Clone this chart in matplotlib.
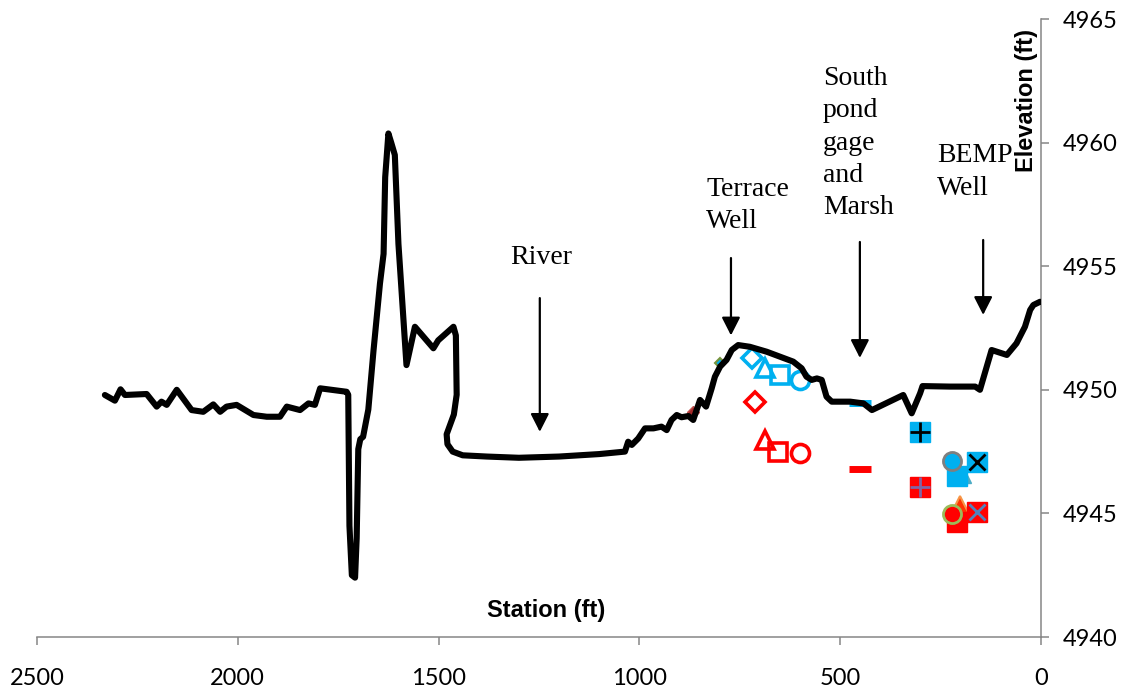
import matplotlib.pyplot as plt

# ground profile: station (ft) and elevation (ft)
station = [2331, 2306, 2292, 2281, 2227, 2202, 2190, 2177, 2152, 2115, 2086, 2061, 2044,
           2028, 2003, 1961, 1928, 1895, 1878, 1845, 1824, 1808, 1795, 1729, 1725, 1722,
           1716, 1708, 1704, 1700, 1695, 1688, 1675, 1662, 1646, 1637, 1633, 1625, 1618,
           1609, 1600, 1580, 1559, 1513, 1501, 1463, 1457, 1455, 1462, 1480, 1478, 1465,
           1440, 1380, 1300, 1200, 1100, 1036, 1028, 1019, 1003, 986, 965, 945, 932, 920,
           907, 895, 878, 866, 849, 834, 820, 812, 799, 783, 770, 754, 725, 683, 617, 596,
           584, 571, 558, 546, 534, 521, 500, 475, 442, 421, 343, 322, 301, 295, 227, 164,
           152, 123, 85, 61, 40, 27, 19, 2.5, 0]
elevation = [4949.79, 4949.56, 4950.02, 4949.79, 4949.83, 4949.32, 4949.52, 4949.39,
             4950.00, 4949.18, 4949.11, 4949.41, 4949.11, 4949.32, 4949.39, 4948.98,
             4948.91, 4948.91, 4949.32, 4949.18, 4949.45, 4949.39, 4950.06, 4949.92,
             4949.80, 4944.50, 4942.50, 4942.40, 4944.00, 4947.60, 4948.00, 4948.10,
             4949.20, 4951.60, 4954.30, 4955.50, 4958.60, 4960.37, 4960.00, 4959.50,
             4955.90, 4951.00, 4952.55, 4951.68, 4952.00, 4952.55, 4952.20, 4949.80,
             4949.00, 4948.20, 4947.80, 4947.50, 4947.35, 4947.30, 4947.25, 4947.30,
             4947.40, 4947.50, 4947.90, 4947.77, 4948.03, 4948.44, 4948.44, 4948.51,
             4948.37, 4948.78, 4948.98, 4948.89, 4948.94, 4948.78, 4949.59, 4949.32,
             4950.06, 4950.53, 4950.94, 4951.21, 4951.61, 4951.81, 4951.74, 4951.54,
             4951.14, 4950.87, 4950.53, 4950.40, 4950.46, 4950.40, 4949.72, 4949.52,
             4949.52, 4949.52, 4949.45, 4949.18, 4949.79, 4949.05, 4949.86, 4950.15,
             4950.13, 4950.13, 4950.00, 4951.61, 4951.41, 4951.88, 4952.55, 4953.23,
             4953.43, 4953.56, 4953.55]

# water levels near the terrace well (open markers)
terrace_st_hi = [720, 687, 650, 600]
terrace_el_hi = [4951.27, 4950.87, 4950.60, 4950.40]
terrace_st_lo = [712, 687, 654, 600]
terrace_el_lo = [4949.52, 4947.97, 4947.50, 4947.43]

# pond gage / marsh / BEMP well (filled markers)
pond_st = 451
pond_el_hi, pond_el_lo = 4949.45, 4946.80
marsh_st = [301, 222, 210, 194, 160]
marsh_el_hi = [4948.31, 4947.13, 4946.51, 4946.55, 4947.09]
marsh_st_lo = [301, 222, 210, 202, 160]
marsh_el_lo = [4946.08, 4944.98, 4944.66, 4945.34, 4945.07]

# small markers on the slope
small_st = [799, 866]
small_el = [4951.07, 4949.11]

# annotations: label text, label anchor, arrow station, arrow start, arrow tip
labels = ["River", "Terrace\nWell", "South\npond\ngage\nand\nMarsh", "BEMP\nWell"]
label_x = [1245, 834, 543, 259]
label_y = [4955.37, 4957.44, 4959.98, 4958.81]
arrow_st = [1248, 772, 451, 144]
arrow_top = [4953.71, 4955.33, 4955.98, 4956.06]
arrow_tip = [4948.30, 4952.20, 4951.29, 4953.03]

cyan = '#00B0F0'
red = '#FF0000'

fig = plt.figure(figsize=(11.31, 6.93), dpi=100)
ax = fig.add_axes([37 / 1131, 1 - 637 / 693, 1004 / 1131, 618 / 693])

# open markers
shapes = ['D', '^', 's', 'o']
sizes = [10.5, 13, 12.5, 13]
for i in range(4):
    ax.plot(terrace_st_hi[i], terrace_el_hi[i], marker=shapes[i], ms=sizes[i], mfc='none',
            mec=cyan, mew=2.6, zorder=3)
    ax.plot(terrace_st_lo[i], terrace_el_lo[i], marker=shapes[i], ms=sizes[i], mfc='none',
            mec=red, mew=2.6, zorder=3)

ax.plot(small_st[0], small_el[0], marker='D', ms=5, mfc=cyan, mec='#77933C', mew=1.5, zorder=3)
ax.plot(small_st[1], small_el[1], marker='D', ms=6, mfc='#A52A2A', mec='#C0504D', mew=1, zorder=3)

# dashes at the pond gage
ax.plot(pond_st, pond_el_hi, marker='_', ms=16, mew=5, mec=cyan, zorder=3)
ax.plot(pond_st, pond_el_lo, marker='_', ms=16, mew=5, mec=red, zorder=3)

# plus in square
ax.plot(marsh_st[0], marsh_el_hi[0], marker='s', ms=14, mfc=cyan, mec=cyan, zorder=3)
ax.plot(marsh_st[0], marsh_el_hi[0], marker='+', ms=14, mec='black', mew=2, zorder=4)
ax.plot(marsh_st_lo[0], marsh_el_lo[0], marker='s', ms=14, mfc=red, mec=red, zorder=3)
ax.plot(marsh_st_lo[0], marsh_el_lo[0], marker='+', ms=14, mec='#8064A2', mew=2, zorder=4)

# squares and triangles
ax.plot(marsh_st[2], marsh_el_hi[2], marker='s', ms=14, mfc=cyan, mec=cyan, zorder=3)
ax.plot(marsh_st[3], marsh_el_hi[3], marker='^', ms=12, mfc='#4BACC6', mec='#4BACC6', zorder=2)
ax.plot(marsh_st_lo[2], marsh_el_lo[2], marker='s', ms=14, mfc=red, mec=red, zorder=3)
ax.plot(marsh_st_lo[3], marsh_el_lo[3], marker='^', ms=13, mfc='#FF3300', mec='#F79646',
        mew=1.5, zorder=2)

# circles
ax.plot(marsh_st[1], marsh_el_hi[1], marker='o', ms=13, mfc=cyan, mec='#7F7F7F', mew=2, zorder=4)
ax.plot(marsh_st_lo[1], marsh_el_lo[1], marker='o', ms=13, mfc=red, mec='#9BBB59', mew=2, zorder=4)

# x in square
ax.plot(marsh_st[4], marsh_el_hi[4], marker='s', ms=14, mfc=cyan, mec=cyan, zorder=3)
ax.plot(marsh_st[4], marsh_el_hi[4], marker='x', ms=12, mec='black', mew=2, zorder=4)
ax.plot(marsh_st_lo[4], marsh_el_lo[4], marker='s', ms=14, mfc=red, mec=red, zorder=3)
ax.plot(marsh_st_lo[4], marsh_el_lo[4], marker='x', ms=12, mec='#4F81BD', mew=2, zorder=4)

# ground line on top
ax.plot(station, elevation, color='black', lw=4.4, solid_joinstyle='round',
        solid_capstyle='round', zorder=5)

# arrows and labels
for st, top, tip in zip(arrow_st, arrow_top, arrow_tip):
    ax.annotate('', xy=(st, tip), xytext=(st, top),
                arrowprops=dict(arrowstyle='-|>,head_length=0.55,head_width=0.28',
                                color='black', lw=1.6, mutation_scale=20,
                                shrinkA=0, shrinkB=0), zorder=6)

txt = dict(family='Liberation Serif', fontsize=20, linespacing=1.38, va='center')
ax.text(label_x[0], label_y[0], labels[0], ha='center', **txt)
for lab, lx, ly in zip(labels[1:], label_x[1:], label_y[1:]):
    ax.text(lx, ly, lab, ha='left', **txt)

ax.set_xlim(2500, 0)
ax.set_ylim(4940, 4965)
ax.set_xticks([2500, 2000, 1500, 1000, 500, 0])
ax.set_yticks([4940, 4945, 4950, 4955, 4960, 4965])
ax.yaxis.tick_right()
for side in ['left', 'top']:
    ax.spines[side].set_visible(False)
for side in ['bottom', 'right']:
    ax.spines[side].set_color('#868686')
    ax.spines[side].set_linewidth(1.1)
ax.tick_params(axis='x', direction='out', length=6, width=1.1, color='#868686', pad=16,
               labelsize=17)
ax.tick_params(axis='y', direction='out', length=6, width=1.1, color='#868686', pad=10,
               labelsize=17)
for t in ax.get_xticklabels() + ax.get_yticklabels():
    t.set_family('Lato')

fig.text(546 / 1131, 1 - 610 / 693, 'Station (ft)', ha='center', va='center',
         family='Liberation Sans', fontweight='bold', fontsize=17)
fig.text(1026 / 1131, 1 - 100 / 693, 'Elevation (ft)', ha='center', va='center',
         rotation=90, family='Liberation Sans', fontweight='bold', fontsize=17)

fig.savefig('out.png', dpi=100)
